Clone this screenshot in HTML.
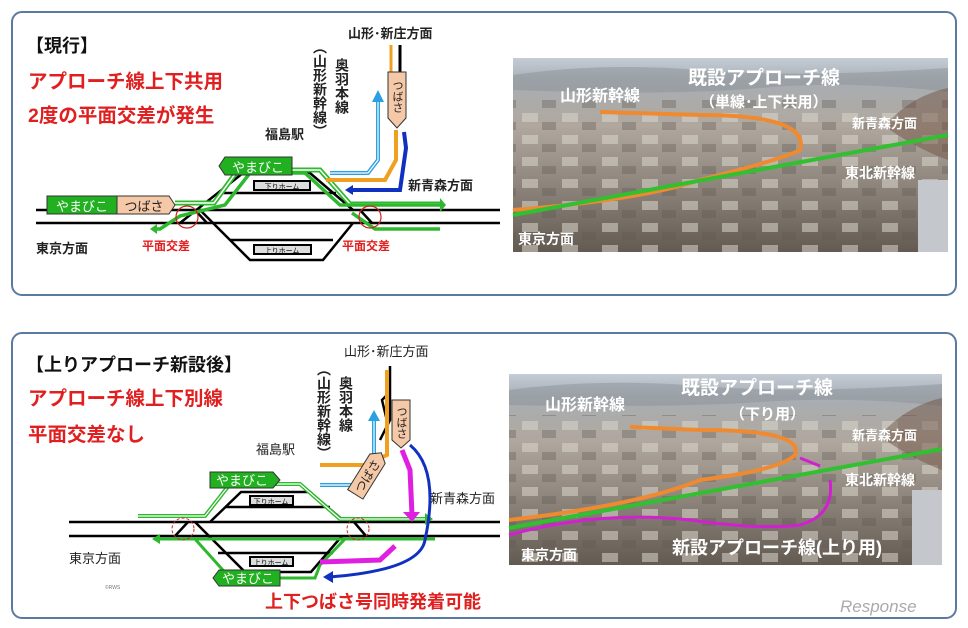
<!DOCTYPE html>
<html><head><meta charset="utf-8"><style>
html,body{margin:0;padding:0;background:#fff;}
svg{display:block;}
text{font-family:"Liberation Sans","Noto Sans CJK JP",sans-serif;}
</style></head><body>
<svg width="968" height="628" viewBox="0 0 968 628" xmlns="http://www.w3.org/2000/svg">
<defs>
<linearGradient id="ph" x1="0" y1="0" x2="0" y2="1">
<stop offset="0" stop-color="#c4ccd6"/><stop offset="0.12" stop-color="#a8aeb4"/>
<stop offset="0.35" stop-color="#b0a89e"/><stop offset="0.65" stop-color="#8e867c"/>
<stop offset="1" stop-color="#635a52"/></linearGradient>
<pattern id="bld" width="40" height="22" patternUnits="userSpaceOnUse">
<rect x="2" y="3" width="16" height="9" fill="#d8d4cc" opacity="0.55"/>
<rect x="22" y="12" width="14" height="8" fill="#5e5852" opacity="0.35"/>
</pattern>
</defs>
<rect x="12" y="12" width="944" height="283" rx="10" fill="#fff" stroke="#5a7aa0" stroke-width="2"/>
<rect x="12" y="333" width="944" height="285" rx="10" fill="#fff" stroke="#5a7aa0" stroke-width="2"/>

<!-- ===== TOP DIAGRAM ===== -->
<text x="26" y="52" font-size="18" font-weight="bold" fill="#111">【現行】</text>
<text x="28" y="88" font-size="19.5" font-weight="bold" fill="#e02020">アプローチ線上下共用</text>
<text x="28" y="122" font-size="19.5" font-weight="bold" fill="#e02020">2度の平面交差が発生</text>
<g stroke="#000" stroke-width="2.5" fill="none">
<line x1="36" y1="210" x2="500" y2="210"/><line x1="36" y1="223" x2="500" y2="223"/>
<polyline points="180,223 243,173 310,173 353,210"/>
<line x1="218" y1="193" x2="336" y2="193"/>
<polyline points="200,210 250,260 323,260 353,223"/>
<line x1="230" y1="240" x2="333" y2="240"/>
<line x1="195" y1="210" x2="207" y2="223"/>
<line x1="360" y1="210" x2="372" y2="223"/>
</g>
<rect x="254" y="181" width="56" height="9" fill="#ddd" stroke="#000" stroke-width="2"/>
<text x="282" y="189" font-size="7" text-anchor="middle">下りホーム</text>
<rect x="254" y="245" width="57" height="9" fill="#ddd" stroke="#000" stroke-width="2"/>
<text x="282" y="253" font-size="7" text-anchor="middle">上りホーム</text>
<polyline points="175,203 214,203 238,170 292,170 320,170 350,204 440,204" fill="none" stroke="#2eb82e" stroke-width="5"/>
<polyline points="175,203 214,203 238,170 292,170 320,170 350,204 440,204" fill="none" stroke="#fff" stroke-width="1.5"/>
<polyline points="440,205 360,205 340,205 305,173 250,173 225,205 180,216 160,229 155,229" fill="none" stroke="#2eb82e" stroke-width="3.5"/>
<polyline points="440,229 375,229 352,213" fill="none" stroke="#2eb82e" stroke-width="3.5"/>
<path d="M440,198 L446,205 L440,212z" fill="#2eb82e"/>
<path d="M150,229 L157,224 L157,234z" fill="#2eb82e"/>
<path d="M47,196 H117 V214 H47z" fill="#20b020" stroke="#333"/>
<text x="82" y="211" font-size="13" text-anchor="middle" fill="#fff">やまびこ</text>
<path d="M117,196 H169 L175,205 L169,214 H117z" fill="#f5c9a8" stroke="#333"/>
<text x="144" y="211" font-size="13" text-anchor="middle" fill="#222">つばさ</text>
<path d="M225,157 H292 V175 H225 L219,166z" fill="#20b020" stroke="#333"/>
<text x="258" y="172" font-size="13" text-anchor="middle" fill="#fff">やまびこ</text>
<circle cx="187" cy="217" r="11" fill="none" stroke="#d02020" stroke-width="1.2"/>
<circle cx="370" cy="217" r="11" fill="none" stroke="#d02020" stroke-width="1.2"/>
<text x="142" y="250" font-size="12" font-weight="bold" fill="#e02020">平面交差</text>
<text x="342" y="250" font-size="12" font-weight="bold" fill="#e02020">平面交差</text>
<text x="36" y="253" font-size="13" font-weight="bold" fill="#222">東京方面</text>
<text x="265" y="139" font-size="13" font-weight="bold" fill="#222">福島駅</text>
<text x="408" y="190" font-size="13" font-weight="bold" fill="#222">新青森方面</text>
<text x="348" y="38" font-size="13" font-weight="bold" fill="#222">山形･新庄方面</text>
<text x="342" y="58" font-size="14" font-weight="bold" fill="#222" writing-mode="tb">奥羽本線</text>
<text x="320" y="40" font-size="14" font-weight="bold" fill="#222" writing-mode="tb">（山形新幹線）</text>
<line x1="391" y1="45" x2="391" y2="74" stroke="#f0a020" stroke-width="3"/>
<line x1="400" y1="45" x2="400" y2="74" stroke="#000" stroke-width="3"/>
<polyline points="378,100 378,160 368,173 330,173" fill="none" stroke="#2aa0e0" stroke-width="4"/>
<polyline points="378,100 378,160 368,173 330,173" fill="none" stroke="#fff" stroke-width="1.2"/>
<path d="M372,102 L378,90 L384,102z" fill="#2aa0e0"/>
<polyline points="396,130 396,160 385,180 326,180" fill="none" stroke="#f0a020" stroke-width="4"/>
<polyline points="404,132 406,148 400,190 350,190" fill="none" stroke="#1030c0" stroke-width="4"/>
<path d="M345,190 L353,185 L353,195z" fill="#1030c0"/>
<path d="M388,72 H406 V118 L397,128 L388,118z" fill="#f5c9a8" stroke="#333"/>
<text x="397" y="80" font-size="11" fill="#222" writing-mode="tb">つばさ</text>

<!-- ===== TOP PHOTO ===== -->
<rect x="513" y="58" width="435" height="194" fill="url(#ph)"/>
<rect x="513" y="100" width="435" height="152" fill="url(#bld)"/>
<path d="M513,75 Q600,62 700,70 T948,68 V92 Q850,80 760,88 T513,90z" fill="#8c9298" opacity="0.5"/>
<path d="M890,120 Q915,95 948,88 V160 Q920,150 890,130z" fill="#6b4a3a" opacity="0.45"/>
<rect x="918" y="180" width="30" height="72" fill="#c4c8cc"/>
<path d="M513,210 Q640,200 700,180 Q780,160 800,150 Q810,115 700,115 L600,112" fill="none" stroke="#f08a30" stroke-width="4"/>
<line x1="513" y1="215" x2="948" y2="135" stroke="#30c030" stroke-width="4"/>
<g fill="#fff" font-weight="bold">
<text x="560" y="101" font-size="16">山形新幹線</text>
<text x="688" y="84" font-size="19">既設アプローチ線</text>
<text x="700" y="107" font-size="15">（単線･上下共用）</text>
<text x="852" y="128" font-size="13">新青森方面</text>
<text x="845" y="178" font-size="14">東北新幹線</text>
<text x="518" y="244" font-size="14">東京方面</text>
</g>

<!-- ===== BOTTOM DIAGRAM ===== -->
<text x="26" y="371" font-size="18" font-weight="bold" fill="#111">【上りアプローチ新設後】</text>
<text x="28" y="405" font-size="19.5" font-weight="bold" fill="#e02020">アプローチ線上下別線</text>
<text x="28" y="441" font-size="19.5" font-weight="bold" fill="#e02020">平面交差なし</text>
<g stroke="#000" stroke-width="2.5" fill="none">
<line x1="69" y1="522" x2="500" y2="522"/><line x1="69" y1="536" x2="500" y2="536"/>
<polyline points="210,522 241,492 310,492 345,522"/>
<line x1="225" y1="507" x2="330" y2="507"/>
<polyline points="195,522 245,572 311,572 342,536"/>
<line x1="218" y1="553" x2="333" y2="553"/>
<line x1="175" y1="536" x2="188" y2="522"/>
<line x1="354" y1="522" x2="366" y2="536"/>
<polyline points="390,366 390,420 380,440"/>
<polyline points="389,393 382,400 388,425"/>
</g>
<rect x="250" y="496" width="43" height="9" fill="#ddd" stroke="#000" stroke-width="2"/>
<text x="271" y="504" font-size="7" text-anchor="middle">下りホーム</text>
<rect x="250" y="557" width="43" height="9" fill="#ddd" stroke="#000" stroke-width="2"/>
<text x="271" y="565" font-size="7" text-anchor="middle">上りホーム</text>
<polyline points="138,516 205,516 230,484 300,484 340,519 425,519" fill="none" stroke="#2eb82e" stroke-width="4"/>
<polyline points="138,516 205,516 230,484 300,484 340,519 425,519" fill="none" stroke="#fff" stroke-width="1.2"/>
<path d="M425,513 L433,519 L425,525z" fill="#2eb82e"/>
<polyline points="435,539 345,539 320,565 315,578 280,578" fill="none" stroke="#2eb82e" stroke-width="3"/>
<polyline points="345,539 160,539" fill="none" stroke="#2eb82e" stroke-width="3"/>
<polyline points="220,539 195,539 230,578 270,578" fill="none" stroke="#2eb82e" stroke-width="3"/>
<path d="M152,539 L160,534 L160,544z" fill="#2eb82e"/>
<polyline points="387,370 387,455 365,465 320,465" fill="none" stroke="#f0a020" stroke-width="4"/>
<polyline points="374,420 374,455 365,485 320,485" fill="none" stroke="#2aa0e0" stroke-width="4"/>
<polyline points="374,420 374,455 365,485 320,485" fill="none" stroke="#fff" stroke-width="1.2"/>
<path d="M368,421 L374,410 L380,421z" fill="#2aa0e0"/>
<polyline points="402,450 410,470 412,515" fill="none" stroke="#e020e0" stroke-width="5"/>
<path d="M403,512 L412,522 L420,512z" fill="#e020e0"/>
<polyline points="395,546 380,560 320,562" fill="none" stroke="#e020e0" stroke-width="5"/>
<path d="M410,445 Q440,470 425,540 Q420,570 330,577" fill="none" stroke="#1030c0" stroke-width="3"/>
<path d="M323,577 L333,571 L333,583z" fill="#1030c0"/>
<g transform="rotate(-58 368 474)">
<path d="M344,465 H386 L393,474 L386,483 H344z" fill="#f5c9a8" stroke="#333"/>
<text x="366" y="479" font-size="12" fill="#222" text-anchor="middle">つばさ</text>
</g>
<path d="M392,400 H410 V440 L401,448 L392,440z" fill="#f5c9a8" stroke="#333"/>
<text x="401" y="406" font-size="11" fill="#222" writing-mode="tb">つばさ</text>
<path d="M210,472 H273 L280,480 L273,488 H210z" fill="#20b020" stroke="#333"/>
<text x="242" y="485" font-size="13" text-anchor="middle" fill="#fff">やまびこ</text>
<path d="M219,570 H280 V586 H219 L213,578z" fill="#20b020" stroke="#333"/>
<text x="248" y="583" font-size="13" text-anchor="middle" fill="#fff">やまびこ</text>
<circle cx="183" cy="529" r="11" fill="none" stroke="#d02020" stroke-width="1" stroke-dasharray="3,2"/>
<circle cx="358" cy="529" r="11" fill="none" stroke="#d02020" stroke-width="1" stroke-dasharray="3,2"/>
<text x="69" y="563" font-size="13" fill="#222">東京方面</text>
<text x="256" y="454" font-size="13" fill="#222">福島駅</text>
<text x="430" y="503" font-size="13" fill="#222">新青森方面</text>
<text x="344" y="356" font-size="13" fill="#222">山形･新庄方面</text>
<text x="346" y="376" font-size="14" font-weight="bold" fill="#222" writing-mode="tb">奥羽本線</text>
<text x="324" y="362" font-size="14" font-weight="bold" fill="#222" writing-mode="tb">（山形新幹線）</text>
<text x="265" y="608" font-size="18" font-weight="bold" fill="#e02020">上下つばさ号同時発着可能</text>
<text x="105" y="589" font-size="5" fill="#777">©RWS</text>

<!-- ===== BOTTOM PHOTO ===== -->
<rect x="509" y="374" width="433" height="191" fill="url(#ph)"/>
<rect x="509" y="415" width="433" height="150" fill="url(#bld)"/>
<path d="M509,390 Q600,378 700,386 T942,384 V406 Q850,396 760,402 T509,405z" fill="#8c9298" opacity="0.5"/>
<path d="M885,430 Q910,405 942,398 V470 Q915,460 885,440z" fill="#6b4a3a" opacity="0.45"/>
<rect x="912" y="490" width="30" height="75" fill="#c4c8cc"/>
<path d="M509,520 Q640,505 700,480 Q780,470 795,455 Q805,430 700,430 L630,427" fill="none" stroke="#f08a30" stroke-width="4"/>
<line x1="509" y1="528" x2="942" y2="449" stroke="#30c030" stroke-width="4"/>
<path d="M509,535 Q600,510 690,520 Q760,530 800,525 Q835,515 830,480 M800,458 L820,466" fill="none" stroke="#d020d0" stroke-width="3"/>
<g fill="#fff" font-weight="bold">
<text x="545" y="410" font-size="16">山形新幹線</text>
<text x="681" y="394" font-size="19">既設アプローチ線</text>
<text x="730" y="419" font-size="15">（下り用）</text>
<text x="852" y="440" font-size="13">新青森方面</text>
<text x="845" y="485" font-size="14">東北新幹線</text>
<text x="521" y="560" font-size="14">東京方面</text>
<text x="672" y="554" font-size="18">新設アプローチ線(上り用)</text>
</g>
<text x="840" y="612" font-size="17" fill="#aaa" font-style="italic">Response</text>
</svg>
</body></html>
